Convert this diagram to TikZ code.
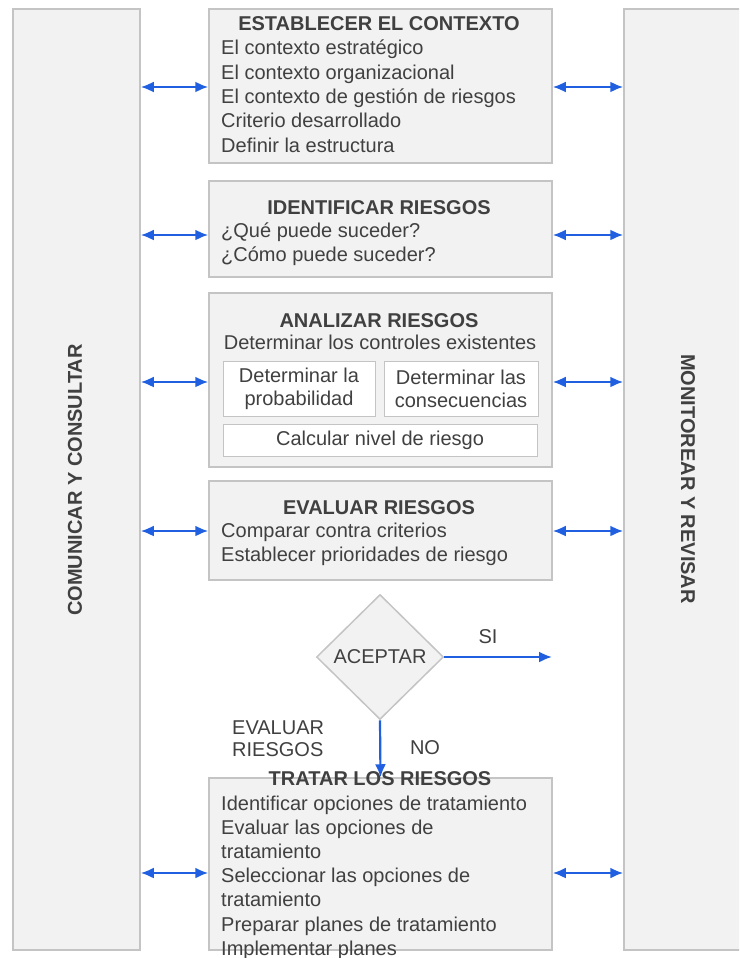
\documentclass[tikz,border=0pt]{standalone}
\usepackage{fontspec}
\setmainfont{Liberation Sans}
\usetikzlibrary{shapes.geometric,arrows.meta}
\definecolor{boxfill}{HTML}{F2F2F2}
\definecolor{boxline}{HTML}{C4C4C4}
\definecolor{txtgray}{HTML}{404040}
\definecolor{linkblue}{HTML}{1F5FE0}
\begin{document}
\begin{tikzpicture}[x=1pt, y=-1pt, >={Latex[length=13pt,width=11pt]},
    box/.style={draw=boxline, line width=1.5pt, fill=boxfill, inner sep=0pt},
    stage/.style={box, minimum width=343pt},
    subbox/.style={draw=boxline, line width=1pt, fill=white, inner sep=0pt,
        align=center, text=txtgray, font=\fontsize{20}{23}\selectfont},
    title/.style={anchor=base, inner sep=0pt, text=txtgray, font=\fontsize{20}{24}\selectfont\bfseries},
    body/.style={anchor=base west, inner sep=0pt, text=txtgray, font=\fontsize{20}{24}\selectfont},
    sidetxt/.style={inner sep=0pt, text=txtgray, font=\fontsize{20}{24}\selectfont\bfseries},
    link/.style={<->, draw=linkblue, line width=2.2pt},
    flow/.style={->, draw=linkblue, line width=2.2pt}]
    % marco de la imagen
    \useasboundingbox (0,0) rectangle (739,958);
    \clip (0,0) rectangle (739,958);

    % columnas laterales
    \node[box, minimum width=127pt, minimum height=941pt] (com) at (76.5,479.5) {};
    \node[box, minimum width=136pt, minimum height=941pt] (mon) at (692,479.5) {};
    \node[sidetxt, rotate=90] (com-t) at (75,480) {COMUNICAR Y CONSULTAR};
    \node[sidetxt, rotate=-90] (mon-t) at (688,479) {MONITOREAR Y REVISAR};

    % etapas del proceso
    \node[stage, minimum height=154pt] (ctx) at (380.5,86) {};
    \node[stage, minimum height=96pt] (ident) at (380.5,229) {};
    \node[stage, minimum height=174pt] (anal) at (380.5,380) {};
    \node[stage, minimum height=99pt] (eval) at (380.5,530.5) {};
    \node[stage, minimum height=172pt] (trat) at (380.5,864) {};

    % establecer el contexto
    \node[title] (ctx-t) at (379,31) {ESTABLECER EL CONTEXTO};
    \foreach \t [count=\i from 0] in {El contexto estratégico, El contexto organizacional,
        El contexto de gestión de riesgos, Criterio desarrollado, Definir la estructura}
        \node[body] (ctx-\i) at (221,55+24.25*\i) {\t};

    % identificar riesgos
    \node[title] (ident-t) at (379,214) {IDENTIFICAR RIESGOS};
    \node[body] (ident-0) at (221,237) {¿Qué puede suceder?};
    \node[body] (ident-1) at (221,261) {¿Cómo puede suceder?};

    % analizar riesgos
    \node[title] (anal-t) at (379,327) {ANALIZAR RIESGOS};
    \node[body, anchor=base] (anal-0) at (380,349) {Determinar los controles existentes};
    \node[subbox, minimum width=152pt, minimum height=55pt] (prob) at (299,388.5)
        {Determinar la\\probabilidad};
    \node[subbox, minimum width=154pt, minimum height=55pt] (cons) at (461,388.5)
        {Determinar las\\consecuencias};
    \node[subbox, minimum width=314pt, minimum height=32pt] (nivel) at (380,440)
        {Calcular nivel de riesgo};

    % evaluar riesgos
    \node[title] (eval-t) at (379,514) {EVALUAR RIESGOS};
    \node[body] (eval-0) at (221,537) {Comparar contra criterios};
    \node[body] (eval-1) at (221,561) {Establecer prioridades de riesgo};

    % decision
    \node[diamond, draw=boxline, line width=1.5pt, fill=boxfill, inner sep=0pt,
        minimum width=127pt, minimum height=125pt, text=txtgray,
        font=\fontsize{20}{24}\selectfont] (acept) at (380,657) {ACEPTAR};
    \coordinate (si-end) at (552,657);
    \draw[flow] (acept.east) -- (si-end);
    \draw[flow] (acept.south) -- (trat.north);
    \node[body, anchor=center] (si) at (488,637) {SI};
    \node[body, anchor=center] (no) at (425,748) {NO};
    \node[body, anchor=west, align=left, font=\fontsize{20}{22}\selectfont] (ev-lbl) at (232,739)
        {EVALUAR\\RIESGOS};

    % tratar los riesgos
    \node[title] (trat-t) at (380,785) {TRATAR LOS RIESGOS};
    \foreach \t [count=\i from 0] in {Identificar opciones de tratamiento, Evaluar las opciones de,
        tratamiento, Seleccionar las opciones de, tratamiento,
        Preparar planes de tratamiento, Implementar planes}
        \node[body] (trat-\i) at (221,810+24.2*\i) {\t};

    % flechas de ida y vuelta con las columnas
    \foreach \n/\d in {ctx/1, ident/6, anal/2, eval/0.5, trat/9} {
        \coordinate (l) at ([yshift=-\d pt]\n.west);
        \coordinate (r) at ([yshift=-\d pt]\n.east);
        \draw[link] (com.east |- l) -- (l);
        \draw[link] (r) -- (mon.west |- r);
    }
\end{tikzpicture}
\end{document}
